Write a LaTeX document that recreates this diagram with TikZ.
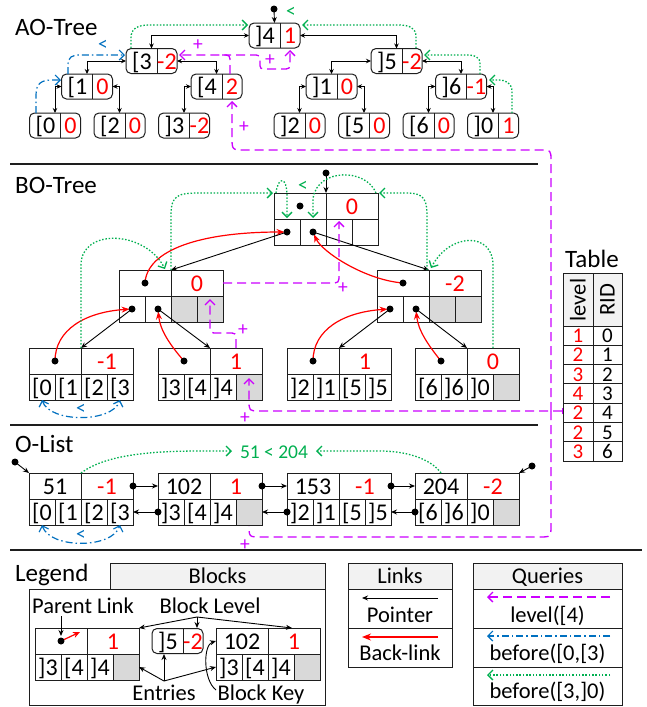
\documentclass[tikz,border=0pt]{standalone}
\usepackage{fontspec}
\setmainfont{Carlito}
\usetikzlibrary{arrows.meta}
\definecolor{qmag}{RGB}{204,0,255}
\definecolor{qblue}{RGB}{0,112,192}
\definecolor{qgreen}{RGB}{0,176,80}
\definecolor{hdr}{RGB}{242,242,242}
\definecolor{gcell}{RGB}{217,217,217}
\definecolor{bord}{RGB}{30,30,30}
\tikzset{
  ft/.style={font=\fontsize{24}{24}\selectfont},
  fl/.style={font=\fontsize{22.5}{22.5}\selectfont},
  ftab/.style={font=\fontsize{21}{21}\selectfont},
  ftitle/.style={font=\fontsize{25}{25}\selectfont},
  fs/.style={font=\fontsize{19.5}{19.5}\selectfont},
  aob/.style={draw=bord, line width=1pt, rounded corners=5pt, minimum width=51pt, minimum height=25pt, inner sep=0pt, outer sep=0pt},
  atxt/.style={ft, inner sep=0pt, text height=16pt, text depth=0pt},
  cellT/.style={draw=bord, line width=1pt, minimum width=52pt, minimum height=26pt, inner sep=0pt, outer sep=0pt, ft, text height=16pt, text depth=0pt},
  cellB/.style={draw=bord, line width=1pt, minimum width=26pt, minimum height=26pt, inner sep=0pt, outer sep=0pt, ft, text height=16pt, text depth=0pt},
  boxn/.style={draw=bord, line width=1pt, inner sep=0pt, outer sep=0pt},
  ptr/.style={-{Stealth[length=6pt,width=5pt]}, line width=0.9pt},
  dptr/.style={{Stealth[length=5pt,width=4.5pt]}-{Stealth[length=5pt,width=4.5pt]}, line width=0.9pt},
  back/.style={red, -{Stealth[length=8pt,width=6pt]}, line width=1.2pt, shorten >=2.5pt},
  qm/.style={qmag, line width=1.3pt, dash pattern=on 9pt off 5pt},
  qb/.style={qblue, line width=1.2pt, dash pattern=on 7pt off 3pt on 1.5pt off 3pt},
  qg/.style={qgreen, line width=1.3pt, dash pattern=on 1.5pt off 1.8pt},
  tip/.style={-{Straight Barb[length=5pt,width=10pt]}},
  btip/.style={{Straight Barb[length=5pt,width=10pt]}-{Straight Barb[length=5pt,width=10pt]}},
  sep/.style={line width=1.5pt, bord},
  lab/.style={ftitle, anchor=base west, inner sep=0pt},
  txl/.style={fl, anchor=base, inner sep=0pt},
  pl/.style={fs, qmag, inner sep=0pt},
}
\newcommand\aonode[5]{%
  \node[aob] (#1) at (#2,#3) {};
  \draw[bord, line width=1pt] (#1.north west) ++(31,0) -- ++(0,25);
  \path (#1.west) ++(16,0) node[atxt] {#4};
  \path (#1.east) ++(-10,0) node[atxt, red] {#5};
}
\newcommand\blk[9]{%
  \node[cellT] (#1-L) at (#2+26,#3+13) {#4};
  \node[cellT, text=red] (#1-R) at (#2+78,#3+13) {#5};
  \node[cellB] (#1-1) at (#2+13,#3+39) {#6};
  \node[cellB] (#1-2) at (#2+39,#3+39) {#7};
  \node[cellB] (#1-3) at (#2+65,#3+39) {#8};
  \node[cellB] (#1-4) at (#2+91,#3+39) {#9};
}
\newcommand\grayc[1]{\filldraw[fill=gcell, draw=bord, line width=1pt] (#1.north west) rectangle (#1.south east);}
\newcommand\bdot[1]{\fill (#1) circle (3.5pt);}
\begin{document}
\begin{tikzpicture}[x=1pt,y=-1pt]
\useasboundingbox (0,0) rectangle (646,707);
\fill[white] (0,0) rectangle (646,707);

% ---------------- section titles and separators
\node[lab] (tAO) at (15,35) {AO-Tree};
\node[lab] (tBO) at (15,193) {BO-Tree};
\node[lab] (tOL) at (15,452) {O-List};
\node[lab] (tLG) at (15,581) {Legend};
\draw[sep] (10,164) -- (538,164);
\draw[sep] (10,425) -- (538,425);
\draw[sep] (10,550) -- (642,550);

% ---------------- AO-Tree
\aonode{a4}{274.5}{35.5}{]4}{1}
\aonode{a3}{151.5}{61}{[3}{-2}
\aonode{a5}{396.5}{61}{]5}{-2}
\aonode{a1}{87}{86.5}{[1}{0}
\aonode{a4b}{216.5}{86.5}{[4}{2}
\aonode{a1b}{331.5}{86.5}{]1}{0}
\aonode{a6}{461}{86.5}{]6}{-1}
\aonode{l0}{55}{125.5}{[0}{0}
\aonode{l2}{119.5}{125.5}{[2}{0}
\aonode{l3}{184}{125.5}{]3}{-2}
\aonode{r2}{299.5}{125.5}{]2}{0}
\aonode{r5}{364}{125.5}{[5}{0}
\aonode{r6}{428.5}{125.5}{[6}{0}
\aonode{r0}{493}{125.5}{]0}{1}
\draw[dptr] (a4.west) -| (a3.north);
\draw[dptr] (a4.east) -| (a5.north);
\draw[dptr] (a3.west) -| (a1.north);
\draw[dptr] (a3.east) -| (a4b.north);
\draw[dptr] (a5.west) -| (a1b.north);
\draw[dptr] (a5.east) -| (a6.north);
\draw[dptr] (a1.west) -| (l0.north);
\draw[dptr] (a1.east) -| (l2.north);
\draw[dptr] (a4b.west) -| (l3.north);
\draw[dptr] (a1b.west) -| (r2.north);
\draw[dptr] (a1b.east) -| (r5.north);
\draw[dptr] (a6.west) -| (r6.north);
\draw[dptr] (a6.east) -| (r0.north);
\coordinate (aroot) at (274,9);
\bdot{aroot}
\draw[ptr] (aroot) -- (a4.north);
% AO queries
\node[fs, qgreen] (ltg) at (291,12) {<};
\node[fs, qblue] (ltb) at (103,45) {<};
\draw[qg, tip] (131,48) -- (131,38) .. controls (131,28) and (138,25) .. (150,25) -- (248,25);
\draw[qg, tip] (512,113) -- (512,92) .. controls (512,83) and (506,80) .. (498,80) -- (489,80);
\draw[qg, tip] (480,74) -- (480,64) .. controls (480,57) and (475,55) .. (466,55) -- (424,55);
\draw[qg, tip] (416,48) -- (416,37) .. controls (416,28) and (410,25) .. (398,25) -- (302,25);
\draw[qb, tip] (36,113) -- (36,95) .. controls (36,83) and (42,80) .. (52,80) -- (61,80);
\draw[qb, tip] (68,74) -- (68,65) .. controls (68,57) and (72,55) .. (80,55) -- (125,55);
\draw[qm, tip] (230,74) -- (230,63) .. controls (230,55) .. (222,55) -- (179,55);
\draw[qm, tip] (222,55) -- (252,55) .. controls (260,55) .. (260,62) .. controls (260,69) .. (267,69) -- (282,69) .. controls (290,69) .. (290,61) -- (290,50);
\node[pl] at (198,45) {+};
\node[pl] at (270,60) {+};
\node[pl] at (244,127) {+};

% ---------------- BO-Tree
\blk{bR}{274}{193}{}{0}{}{}{}{}
\blk{bL}{119}{270}{}{0}{}{}{}{}
\grayc{bL-3}\grayc{bL-4}
\blk{bC}{377}{270}{}{-2}{}{}{}{}
\grayc{bC-3}\grayc{bC-4}
\blk{f1}{29}{348}{}{-1}{[0}{[1}{[2}{[3}
\blk{f2}{158}{348}{}{1}{]3}{[4}{]4}{}
\grayc{f2-4}
\blk{f3}{287}{348}{}{1}{]2}{]1}{[5}{]5}
\blk{f4}{415}{348}{}{0}{[6}{]6}{]0}{}
\grayc{f4-4}
\coordinate (broot) at (326,173);
\draw[ptr] (broot) -- (bR-L.north east);
\draw[ptr] (bR-1.center) -- (bL-L.north east);
\draw[ptr] (bR-2.center) -- (bC-L.north east);
\draw[ptr] (bL-1.center) -- (f1-L.north east);
\draw[ptr] (bL-2.center) -- (f2-L.north east);
\draw[ptr] (bC-1.center) -- (f3-L.north east);
\draw[ptr] (bC-2.center) -- (f4-L.north east);
\draw[back] (bL-L.center) .. controls (147,250) and (200,232) .. (bR-1.center);
\draw[back] (bC-L.center) .. controls (365,280) and (322,252) .. (bR-2.center);
\draw[back] (f1-L.center) .. controls (55,330) and (85,312) .. (bL-1.center);
\draw[back] (f2-L.center) .. controls (170,345) and (160,330) .. (bL-2.center);
\draw[back] (f3-L.center) .. controls (313,330) and (343,312) .. (bC-1.center);
\draw[back] (f4-L.center) .. controls (428,345) and (418,330) .. (bC-2.center);
\bdot{broot}
\bdot{bR-L.center}\bdot{bR-1.center}\bdot{bR-2.center}
\bdot{bL-L.center}\bdot{bL-1.center}\bdot{bL-2.center}
\bdot{bC-L.center}\bdot{bC-1.center}\bdot{bC-2.center}
\bdot{f1-L.center}\bdot{f2-L.center}\bdot{f3-L.center}\bdot{f4-L.center}
% BO queries
\node[fs, qgreen] (ltg2) at (303,186) {<};
\draw[qg, tip] (f1-L.north east) -- (81,265) .. controls (81,228) and (145,230) .. (165,269);
\draw[qg, tip] (bL-L.north east) -- (171,215) .. controls (171,195) and (178,193) .. (200,193) -- (273,193);
\draw[qg, tip] (276,193) .. controls (278,176) and (287,176) .. (287,196) -- (287,218);
\draw[qg, tip] (f4-R.north) -- (493,265) .. controls (493,232) and (450,232) .. (431,268);
\draw[qg, tip] (427,270) -- (427,215) .. controls (427,195) and (420,193) .. (405,193) -- (379,193);
\draw[qg, tip] (376,193) .. controls (366,168) and (318,168) .. (313,198) -- (313,218);
\draw[qb, btip] (f1-1.south) .. controls (50,423) and (112,423) .. (f1-4.south);
\node[fs, qblue] (ltb2) at (81,409) {<};
\draw[qm, tip] (bL-R.east) -- (330,283) .. controls (339,283) .. (339,274) -- (339,221);
\draw[qm, tip] (f2-R.north) -- (236,341) .. controls (236,333) .. (228,333) -- (218,333) .. controls (210,333) .. (210,325) -- (210,299);
\node[pl] at (343,288) {+};
\node[pl] at (243,330) {+};

% ---------------- Table
\node[ftitle, anchor=base, inner sep=0pt] (tTab) at (592,267) {Table};
\filldraw[fill=hdr, draw=bord, line width=1pt] (563,273) rectangle (622,326);
\node[fl, rotate=90] (hLv) at (578,300) {level};
\node[fl, rotate=90] (hRid) at (607.5,300) {RID};
\draw[bord, line width=1pt] (563,326) rectangle (622,461);
\draw[bord, line width=1pt] (593,273) -- (593,461);
\foreach \lv [count=\i from 0] in {1,2,3,4,2,2,3} {
  \draw[bord, line width=1pt] (563,{326+19.3*\i}) -- (622,{326+19.3*\i});
  \node[ftab, red, anchor=base, inner sep=0pt] at (578,{326+19.3*\i+16.5}) {\lv};
  \node[ftab, anchor=base, inner sep=0pt] at (607.5,{326+19.3*\i+16.5}) {\i};
}

% ---------------- magenta long path
\draw[qm, {Bar[width=6pt]}-{Straight Barb[length=5pt,width=10pt]}] (563,411) -- (260,411) .. controls (249,411) .. (249,400) -- (249,378);
\draw[qm, tip] (551,411) -- (551,161) .. controls (551,150) .. (540,150) -- (245,150) .. controls (232,150) .. (232,137) -- (232,101);
\draw[qm, tip] (551,411) -- (551,525) .. controls (551,537) .. (539,537) -- (261,537) .. controls (249,537) .. (249,525) -- (249,501);
\node[pl] at (245,418) {+};
\node[pl] at (245,545) {+};

% ---------------- O-List
\blk{o1}{29}{473}{51}{-1}{[0}{[1}{[2}{[3}
\blk{o2}{158}{473}{102}{1}{]3}{[4}{]4}{}
\grayc{o2-4}
\blk{o3}{287}{473}{153}{-1}{]2}{]1}{[5}{]5}
\blk{o4}{415}{473}{204}{-2}{[6}{]6}{]0}{}
\grayc{o4-4}
\draw[ptr] (o1-R.east) -- (o2-L.west);
\draw[ptr] (o2-R.east) -- (o3-L.west);
\draw[ptr] (o3-R.east) -- (o4-L.west);
\draw[ptr] (o2-1.west) -- (o1-4.east);
\draw[ptr] (o3-1.west) -- (o2-4.east);
\draw[ptr] (o4-1.west) -- (o3-4.east);
\bdot{o1-R.east}\bdot{o2-R.east}\bdot{o3-R.east}
\bdot{o2-1.west}\bdot{o3-1.west}\bdot{o4-1.west}
\coordinate (ohead) at (15,462);
\coordinate (otail) at (532,466);
\bdot{ohead}\bdot{otail}
\draw[ptr] (ohead) -- (o1-L.north west);
\draw[ptr] (otail) -- (o4-R.north east);
\node[fs, qgreen] (cmp) at (274,452) {51 < 204};
\draw[qg, tip] (o1-L.north east) .. controls (105,455) and (150,451) .. (200,451) -- (232,451);
\draw[qg, tip] (o4-L.north) .. controls (430,458) and (405,451) .. (380,451) -- (316,451);
\draw[qb, btip] (o1-1.south) .. controls (50,549) and (112,549) .. (o1-4.south);
\node[fs, qblue] (ltb3) at (81,535) {<};

% ---------------- Legend: Blocks
\node[boxn, fill=hdr, minimum width=215pt, minimum height=26pt] (bh) at (217.5,576) {};
\node[txl] at (217.5,583) {Blocks};
\node[boxn, minimum width=296pt, minimum height=116pt] (bb) at (177,647) {};
\blk{g1}{35}{628}{}{1}{]3}{[4}{]4}{}
\grayc{g1-4}
\aonode{g5}{177.5}{641}{]5}{-2}
\blk{g2}{216}{628}{102}{1}{]3}{[4}{]4}{}
\grayc{g2-4}
\draw[back, shorten >=0pt, -{Stealth[length=7pt,width=6pt]}] (g1-L.center) -- (80,632);
\bdot{g1-L.center}
\node[txl] (tpl) at (83,613) {Parent Link};
\draw[ptr] (61,616) -- (61,636);
\node[txl] (tbl) at (210,613) {Block Level};
\coordinate (blo) at (197,617);
\draw[ptr] (blo) -- (g1-R.north east);
\draw[ptr] (blo) -- (197,628);
\draw[ptr] (blo) -- (292,628);
\node[txl] (ten) at (164,700) {Entries};
\coordinate (eo) at (164,681);
\draw[ptr] (eo) -- (g1-4.east);
\draw[ptr] (eo) -- (164,654);
\draw[ptr] (eo) -- (g2-1.west);
\node[txl] (tbk) at (261,700) {Block Key};
\draw[ptr] (216,690) .. controls (203,680) and (203,645) .. (g2-L.west);

% ---------------- Legend: Links
\node[boxn, fill=hdr, minimum width=104pt, minimum height=26pt] (lh) at (400,576) {};
\node[txl] at (400,583) {Links};
\node[boxn, minimum width=104pt, minimum height=39pt] (lr1) at (400,608.5) {};
\node[boxn, minimum width=104pt, minimum height=39pt] (lr2) at (400,647.5) {};
\draw[ptr] (438,598) -- (362,598);
\node[txl] at (400,622) {Pointer};
\draw[red, line width=1.4pt, -{Stealth[length=9pt,width=7pt]}] (438,637) -- (362,637);
\node[txl] at (400,660) {Back-link};

% ---------------- Legend: Queries
\node[boxn, fill=hdr, minimum width=149pt, minimum height=26pt] (qh) at (547.5,576) {};
\node[txl] at (547.5,583) {Queries};
\node[boxn, minimum width=149pt, minimum height=39pt] (qr1) at (547.5,608.5) {};
\node[boxn, minimum width=149pt, minimum height=39pt] (qr2) at (547.5,647.5) {};
\node[boxn, minimum width=149pt, minimum height=38pt] (qr3) at (547.5,686) {};
\draw[qm, tip] (610,597) -- (487,597);
\node[txl] at (547.5,622) {level([4)};
\draw[qb, tip] (610,636) -- (487,636);
\node[txl] at (547.5,660) {before([0,[3)};
\draw[qg, tip] (610,675) -- (487,675);
\node[txl] at (547.5,698) {before([3,]0)};
\end{tikzpicture}
\end{document}
